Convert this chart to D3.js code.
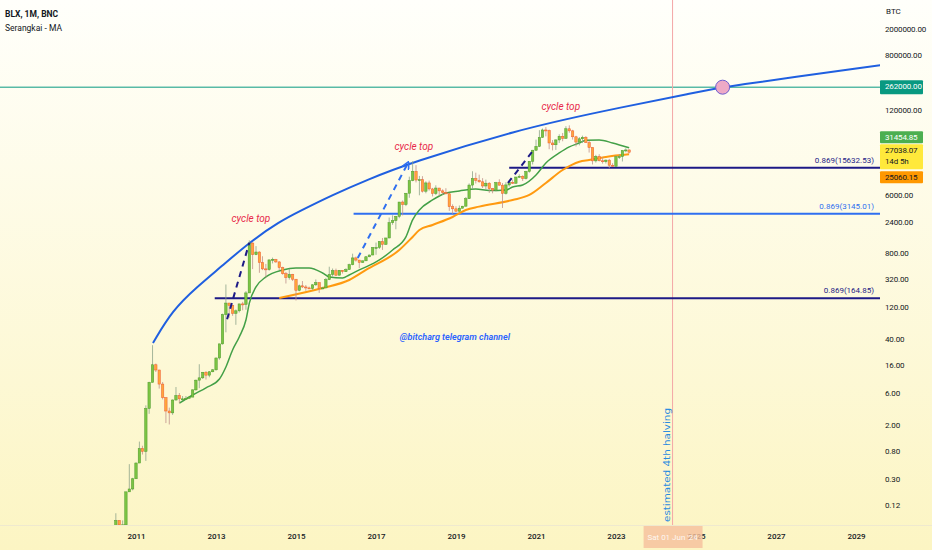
<!DOCTYPE html>
<html>
<head>
<meta charset="utf-8">
<script src="https://cdn.jsdelivr.net/npm/d3@7"></script>
<style>
  html, body { margin: 0; padding: 0; background: #fff; }
  svg { display: block; font-family: Roboto, "Noto Sans", sans-serif; }
</style>
</head>
<body>
<svg id="chart" width="932" height="550"></svg>
<script>
// ── BLX monthly candles, Jul 2010 → May 2023 ──────────────────────
const FIRST_MONTH = "2010-07";
const opens = [
  0.05, 0.07, 0.06, 0.06, 0.19, 0.21,
  0.30, 0.52, 0.86, 0.78, 3.5, 8.7, 16.1, 13.4, 8.2, 5.1, 3.2, 3.0,
  4.7, 5.5, 4.9, 4.9, 5.0, 5.2, 6.7, 9.4, 10.2, 12.4, 11.2, 12.6,
  13.5, 20.4, 33.4, 93, 139, 128, 97, 106, 135, 133, 198, 1130,
  755, 827, 573, 459, 448, 628, 640, 585, 480, 387, 338, 378,
  320, 217, 254, 244, 236, 230, 263, 284, 230, 236, 315, 378,
  430, 368, 437, 416, 448, 531, 673, 624, 574, 608, 700, 745,
  964, 970, 1190, 1080, 1350, 2300, 2480, 2870, 4740, 4340, 6450, 10000,
  13850, 10220, 10330, 6920, 9240, 7490, 6390, 7730, 7000, 6620, 6320, 4020,
  3740, 3440, 3820, 4100, 5320, 8570, 10820, 10080, 9600, 8300, 9150, 7550,
  7190, 9350, 8540, 6410, 8620, 9450, 9140, 11350, 11650, 10780, 13800, 19700,
  28990, 33100, 45200, 58800, 57750, 37300, 35050, 41500, 47150, 43800, 61300, 57000,
  46300, 38500, 43200, 45500, 37700, 31800, 19950, 23300, 20050, 19430, 20500, 17150,
  16540, 23130, 23150, 28480, 29250
];
const highs = [
  0.09, 0.07, 0.07, 0.19, 0.50, 0.31,
  0.53, 1.10, 0.95, 3.9, 8.9, 31.9, 16.8, 13.5, 8.8, 5.2, 3.6, 4.8,
  7.4, 6.0, 5.4, 5.4, 5.2, 6.8, 9.6, 16.4, 12.5, 12.9, 12.9, 13.9,
  20.7, 33.5, 96, 266, 140, 130, 111, 135, 145, 211, 1242, 1163,
  1017, 847, 713, 545, 632, 680, 650, 600, 495, 412, 460, 385,
  320, 265, 300, 261, 247, 268, 317, 285, 245, 335, 495, 465,
  463, 441, 440, 468, 550, 780, 704, 626, 612, 720, 755, 982,
  1150, 1210, 1350, 1360, 2760, 2980, 2920, 4740, 5000, 6450, 11500, 19800,
  17200, 11800, 11700, 9760, 10000, 7770, 8500, 7760, 7400, 7680, 6560, 4370,
  4090, 4200, 4140, 5640, 9080, 13880, 13200, 12330, 10920, 10370, 9500, 7750,
  9580, 10500, 9190, 9470, 10070, 10380, 11450, 12480, 12080, 14100, 19900, 29300,
  41950, 58350, 61780, 64900, 59600, 41330, 42400, 50500, 52900, 67000, 69000, 59100,
  47950, 45800, 48200, 47400, 39900, 31950, 24650, 25200, 22800, 21000, 21450, 18400,
  23950, 25250, 29190, 31000, 29800
];
const lows = [
  0.05, 0.05, 0.06, 0.06, 0.19, 0.20,
  0.30, 0.52, 0.70, 0.56, 2.9, 8.7, 12.5, 7.0, 4.8, 2.1, 2.0, 2.8,
  4.6, 4.2, 4.7, 4.8, 4.9, 5.2, 6.5, 7.1, 9.8, 9.6, 10.4, 12.4,
  13.1, 19.2, 32.6, 50, 83, 89, 65, 100, 108, 110, 198, 455,
  740, 400, 439, 340, 430, 555, 565, 440, 374, 275, 315, 300,
  152, 210, 235, 213, 227, 221, 253, 198, 226, 236, 310, 350,
  355, 366, 390, 412, 441, 520, 592, 470, 568, 602, 690, 738,
  750, 920, 890, 1060, 1340, 2140, 1830, 2690, 2970, 4110, 5500, 9800,
  9400, 6000, 6600, 6430, 7060, 5760, 6070, 5880, 6100, 6200, 3480, 3130,
  3380, 3370, 3790, 4050, 5300, 7440, 9060, 9330, 7730, 7300, 6520, 6430,
  6860, 8450, 3850, 6150, 8120, 8910, 8970, 10960, 9890, 10430, 13200, 17600,
  28130, 32300, 45000, 47000, 30000, 28800, 29300, 37400, 39600, 43300, 53300, 42000,
  32950, 34350, 37200, 37600, 26700, 17600, 18800, 19550, 18150, 18200, 15480, 16270,
  16500, 21350, 19550, 26950, 25850
];
const closes = [
  0.07, 0.06, 0.06, 0.19, 0.21, 0.30,
  0.52, 0.86, 0.78, 3.5, 8.7, 16.1, 13.4, 8.2, 5.1, 3.2, 3.0, 4.7,
  5.5, 4.9, 4.9, 5.0, 5.2, 6.7, 9.4, 10.2, 12.4, 11.2, 12.6, 13.5,
  20.4, 33.4, 93, 139, 128, 97, 106, 135, 133, 198, 1130, 755,
  827, 573, 459, 448, 628, 640, 585, 480, 387, 338, 378, 320,
  217, 254, 244, 236, 230, 263, 284, 230, 236, 315, 378, 430,
  368, 437, 416, 448, 531, 673, 624, 574, 608, 700, 745, 964,
  970, 1190, 1080, 1350, 2300, 2480, 2870, 4740, 4340, 6450, 10000, 13850,
  10220, 10330, 6920, 9240, 7490, 6390, 7730, 7000, 6620, 6320, 4020, 3740,
  3440, 3820, 4100, 5320, 8570, 10820, 10080, 9600, 8300, 9150, 7550, 7190,
  9350, 8540, 6410, 8620, 9450, 9140, 11350, 11650, 10780, 13800, 19700, 28990,
  33100, 45200, 58800, 57750, 37300, 35050, 41500, 47150, 43800, 61300, 57000, 46300,
  38500, 43200, 45500, 37700, 31800, 19950, 23300, 20050, 19430, 20500, 17150, 16540,
  23130, 23150, 28480, 29250, 27038.07
];

// ── Moving averages ──────────────────────────────────────────────
const greenMaDates = ["2012-02","2012-06","2012-10","2013-02","2013-04","2013-06","2013-08","2013-10","2013-11","2014-01","2014-04","2014-09","2015-01","2015-05","2015-09","2015-11","2016-03","2016-05","2016-08","2017-02","2017-06","2017-10","2017-12","2018-02","2018-06","2018-10","2019-02","2019-07","2019-11","2020-04","2020-06","2020-09","2021-01","2021-04","2021-08","2021-11","2022-02","2022-04","2022-08","2022-12","2023-05"];
const greenMa = [4.2, 5.6, 7.2, 9.8, 14.9, 27, 42.5, 77, 139, 244, 346, 442, 473, 473, 397, 346, 334, 371, 442, 626, 888, 1400, 2535, 3590, 5090, 6500, 6980, 7450, 7100, 7230, 8020, 8600, 12200, 18570, 26300, 32500, 37300, 41000, 41500, 37300, 31454.85];
const orangeMaDates = ["2014-08","2015-09","2016-05","2016-10","2017-08","2017-12","2018-02","2018-06","2018-12","2019-04","2019-08","2020-06","2020-11","2021-04","2021-09","2022-02","2022-05","2022-10","2023-05"];
const orangeMa = [166, 235, 311, 442, 888, 1400, 1786, 2128, 2812, 3590, 4035, 5090, 6070, 9230, 14500, 19400, 20600, 22900, 25060.15];

// ── Drawings ─────────────────────────────────────────────────────
const arcDates  = ["2011-06-05","2011-12-01","2012-07-10","2013-02-15","2013-11-05","2014-08-05","2015-02-05","2015-12-01","2016-10-10","2017-11-05","2020-07-10","2022-08-05","2025-02-05","2025-09-01","2029-08-15"];
const arcPrices = [34.5, 109, 244, 491, 1175, 2400, 3450, 6070, 10250, 18570, 58750, 111500, 224400, 264000, 565000];

const fibLabels = ["0.869(15632.53)", "0.869(3145.01)", "0.869(164.85)"];
const fibPrices = [15632.53, 3145.01, 164.85];
const fibStarts = ["2020-05-01", "2016-06-10", "2012-12-20"];
const fibColors = ["#1d1a86", "#2f6ff0", "#1d1a86"];

const trendFromDates  = ["2013-04-12", "2016-07-18", "2020-04-20"];
const trendFromPrices = [78.9, 671, 9230];
const trendToDates    = ["2013-11-01", "2017-10-20", "2020-12-01"];
const trendToPrices   = [1146, 18570, 28000];
const trendColors     = ["#1d1a86", "#2f6ff0", "#1d1a86"];

const noteTexts  = ["cycle top", "cycle top", "cycle top", "@bitcharg telegram channel"];
const noteDates  = ["2013-11-15", "2017-12-12", "2021-08-15", "2018-12-22"];
const notePrices = [2625, 32450, 131300, 42.5];

const targetPrice = 262000;
const targetDate  = "2025-09-01";
const halvingDate = "2024-06-01";
const halvingText = "estimated 4th halving";
const halvingLabel = "Sat 01 Jun '24";

const priceTicks = [0.12, 0.30, 0.80, 2, 6, 16, 40, 120, 320, 800, 2400, 6000, 120000, 800000, 2000000];
const yearTicks  = [2011, 2013, 2015, 2017, 2019, 2021, 2023, 2025, 2027, 2029];

// ── Setup ────────────────────────────────────────────────────────
const W = 932, H = 550;
const PLOT_R = 880, PLOT_B = 525;
const svg = d3.select("#chart");
const parseMonth = d3.utcParse("%Y-%m");
const parseDay   = d3.utcParse("%Y-%m-%d");

const x = d3.scaleUtc()
  .domain([new Date(Date.UTC(2011, 0, 1)), new Date(Date.UTC(2029, 0, 1))])
  .range([136, 856]);
const y = d3.scaleLog().domain([0.12, 2000000]).range([505, 29]);

const defs = svg.append("defs");
const grad = defs.append("linearGradient").attr("id", "bg").attr("x1", 0).attr("y1", 0).attr("x2", 0).attr("y2", 1);
grad.append("stop").attr("offset", "0%").attr("stop-color", "#fffffb");
grad.append("stop").attr("offset", "100%").attr("stop-color", "#fcf5c3");
defs.append("clipPath").attr("id", "plot")
  .append("rect").attr("x", 0).attr("y", 0).attr("width", PLOT_R).attr("height", PLOT_B);
defs.append("marker")
  .attr("id", "arrow-blue").attr("viewBox", "0 -5 10 10")
  .attr("refX", 8).attr("refY", 0)
  .attr("markerWidth", 4).attr("markerHeight", 4).attr("orient", "auto")
  .append("path").attr("d", "M0,-5L10,0L0,5").attr("fill", "none")
  .attr("stroke", "#2f6ff0").attr("stroke-width", 2);

svg.append("rect").attr("width", W).attr("height", H).attr("fill", "url(#bg)");

const plot = svg.append("g").attr("clip-path", "url(#plot)");

// teal target level
plot.append("line")
  .attr("x1", 0).attr("x2", PLOT_R)
  .attr("y1", y(targetPrice)).attr("y2", y(targetPrice))
  .attr("stroke", "#089981").attr("stroke-width", 1);

// halving vertical line
const hx = x(parseDay(halvingDate));
plot.append("line")
  .attr("x1", hx).attr("x2", hx).attr("y1", 0).attr("y2", PLOT_B)
  .attr("stroke", "#f4a6a6").attr("stroke-width", 1);

// fib horizontal levels
fibPrices.forEach((p, i) => {
  const yy = y(p);
  plot.append("line")
    .attr("x1", x(parseDay(fibStarts[i]))).attr("x2", PLOT_R)
    .attr("y1", yy).attr("y2", yy)
    .attr("stroke", fibColors[i]).attr("stroke-width", 2);
  plot.append("text")
    .attr("x", 874).attr("y", yy - 5)
    .attr("text-anchor", "end")
    .attr("font-size", 8).attr("fill", fibColors[i])
    .text(fibLabels[i]);
});

// big arc (smoothed through the read points)
const arcLine = d3.line()
  .x(d => x(d.date)).y(d => y(d.price))
  .curve(d3.curveBasis);
plot.append("path")
  .datum(arcDates.map((d, i) => ({ date: parseDay(d), price: arcPrices[i] })))
  .attr("d", arcLine)
  .attr("fill", "none").attr("stroke", "#1f5fe0").attr("stroke-width", 2);

// moving averages
const maLine = d3.line()
  .x(d => x(d.date)).y(d => y(d.v))
  .curve(d3.curveMonotoneX);
plot.append("path")
  .datum(orangeMaDates.map((d, i) => ({ date: parseMonth(d), v: orangeMa[i] })))
  .attr("d", maLine)
  .attr("fill", "none").attr("stroke", "#ff9a10").attr("stroke-width", 2);
plot.append("path")
  .datum(greenMaDates.map((d, i) => ({ date: parseMonth(d), v: greenMa[i] })))
  .attr("d", maLine)
  .attr("fill", "none").attr("stroke", "#43a047").attr("stroke-width", 1.5);

// candles
const firstMonth = parseMonth(FIRST_MONTH);
const candles = closes.map((c, i) => ({
  date: d3.utcMonth.offset(firstMonth, i),
  o: opens[i], h: highs[i], l: lows[i], c
}));
const candleG = plot.append("g");
candles.forEach(d => {
  const cx = x(d.date);
  const up = d.c >= d.o;
  candleG.append("line")
    .attr("x1", cx).attr("x2", cx)
    .attr("y1", y(d.h)).attr("y2", y(d.l))
    .attr("stroke", up ? "#8ea58a" : "#c0908a").attr("stroke-width", 0.8);
  const top = y(Math.max(d.o, d.c)), bot = y(Math.min(d.o, d.c));
  candleG.append("rect")
    .attr("x", cx - 1.2).attr("width", 2.4)
    .attr("y", top).attr("height", Math.max(1, bot - top))
    .attr("fill", up ? "#7cc443" : "#ffa73a")
    .attr("stroke", up ? "#4c9a2a" : "#ee5a36").attr("stroke-width", 0.5);
});

// dashed trend lines
trendFromDates.forEach((d, i) => {
  plot.append("line")
    .attr("x1", x(parseDay(d))).attr("y1", y(trendFromPrices[i]))
    .attr("x2", x(parseDay(trendToDates[i]))).attr("y2", y(trendToPrices[i]))
    .attr("stroke", trendColors[i]).attr("stroke-width", 2)
    .attr("stroke-dasharray", "6,5")
    .attr("marker-end", i === 1 ? "url(#arrow-blue)" : null);
});

// target circle
plot.append("circle")
  .attr("cx", x(parseDay(targetDate))).attr("cy", y(targetPrice)).attr("r", 7)
  .attr("fill", "#eeaac6").attr("stroke", "#6d5fd0").attr("stroke-width", 1);

// notes
noteTexts.forEach((t, i) => {
  const isChannel = i === 3;
  plot.append("text")
    .attr("x", x(parseDay(noteDates[i]))).attr("y", y(notePrices[i]))
    .attr("dy", "0.35em")
    .attr("text-anchor", "middle")
    .attr("font-size", isChannel ? 9 : 10)
    .attr("font-style", "italic")
    .attr("font-weight", isChannel ? 600 : 400)
    .attr("fill", isChannel ? "#2962ff" : "#e8284a")
    .text(t);
});

// vertical halving text
plot.append("text")
  .attr("transform", `translate(${hx - 6},${465}) rotate(-90)`)
  .attr("text-anchor", "middle").attr("dy", "0.35em")
  .attr("font-family", "'DejaVu Sans', sans-serif")
  .attr("font-size", 9.5).attr("fill", "#2a8be0")
  .attr("textLength", 114).attr("lengthAdjust", "spacingAndGlyphs")
  .text(halvingText);

// ── Axes ─────────────────────────────────────────────────────────
svg.append("line")
  .attr("x1", 0).attr("x2", W).attr("y1", PLOT_B + 0.5).attr("y2", PLOT_B + 0.5)
  .attr("stroke", "#efe9cf").attr("stroke-width", 1);

const yAxis = svg.append("g")
  .attr("transform", `translate(${PLOT_R},0)`)
  .call(d3.axisRight(y).tickValues(priceTicks).tickFormat(d3.format(".2f")).tickSize(0).tickPadding(5));
yAxis.select(".domain").remove();
yAxis.selectAll("text").attr("font-size", 8).attr("fill", "#131722")
  .attr("font-family", "Roboto, sans-serif").attr("letter-spacing", -0.15);

svg.append("text").attr("x", 886).attr("y", 11).attr("dy", "0.35em")
  .attr("font-size", 8).attr("fill", "#131722").text("BTC");

const xAxis = svg.append("g")
  .attr("transform", `translate(0,${PLOT_B})`)
  .call(d3.axisBottom(x).tickValues(yearTicks.map(yr => new Date(Date.UTC(yr, 0, 1))))
    .tickFormat(d3.utcFormat("%Y")).tickSize(0).tickPadding(8));
xAxis.select(".domain").remove();
xAxis.selectAll("text").attr("font-size", 8).attr("font-weight", 500)
  .attr("fill", "#131722").attr("font-family", "Roboto, sans-serif");

// crosshair date label at halving
svg.append("rect")
  .attr("x", hx - 29).attr("y", PLOT_B + 1).attr("width", 59).attr("height", 22)
  .attr("fill", "#f5bf9c").attr("opacity", 0.8);
svg.append("text")
  .attr("x", hx).attr("y", PLOT_B + 12).attr("dy", "0.35em")
  .attr("text-anchor", "middle").attr("font-size", 8)
  .attr("fill", "#fff").attr("opacity", 0.85)
  .text(halvingLabel);

// price labels on the right axis
function priceTag(yTop, h, fill, color, lines) {
  svg.append("rect").attr("x", PLOT_R).attr("y", yTop).attr("width", 43).attr("height", h)
    .attr("fill", fill).attr("rx", 1);
  lines.forEach((t, k) => {
    svg.append("text").attr("x", PLOT_R + 5).attr("y", yTop + 6.5 + k * 11).attr("dy", "0.35em")
      .attr("font-size", 8).attr("fill", color).attr("letter-spacing", -0.15).text(t);
  });
}
const fmt = d3.format(".2f");
priceTag(y(targetPrice) - 7, 14, "#089981", "#fff", [fmt(targetPrice)]);
const lastClose = closes[closes.length - 1];
const lastGreen = greenMa[greenMa.length - 1];
const lastOrange = orangeMa[orangeMa.length - 1];
const yellowTop = y(lastClose) - 8;
const yellowH = 25;
const greenTop = Math.min(y(lastGreen) - 6, yellowTop - 13);
const orangeTop = Math.max(y(lastOrange) - 6, yellowTop + yellowH + 2);
priceTag(greenTop, 12, "#4caf50", "#fff", [fmt(lastGreen)]);
priceTag(yellowTop, yellowH, "#ffe93b", "#131722", [fmt(lastClose), "14d 5h"]);
priceTag(orangeTop, 12, "#ff9800", "#131722", [fmt(lastOrange)]);

// legend
svg.append("text").attr("x", 5).attr("y", 14).attr("dy", "0.35em")
  .attr("font-size", 8.5).attr("font-weight", 700).attr("fill", "#131722").text("BLX, 1M, BNC");
svg.append("text").attr("x", 5).attr("y", 28).attr("dy", "0.35em")
  .attr("font-size", 8.5).attr("fill", "#131722").text("Serangkai - MA");
</script>
</body>
</html>
